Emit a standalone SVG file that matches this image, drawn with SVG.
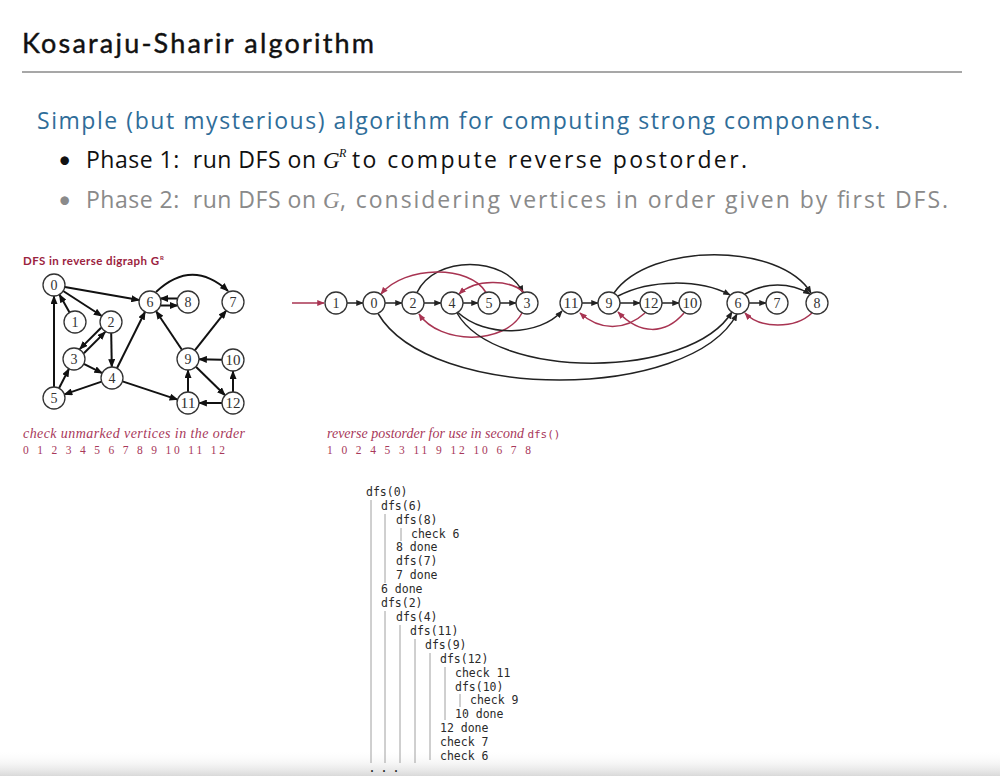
<svg xmlns="http://www.w3.org/2000/svg" width="1000" height="776" viewBox="0 0 1000 776">
  <defs>
    <style>
      .head { font-family: Lato, "Open Sans", sans-serif; }
      .body { font-family: "Open Sans", Lato, sans-serif; }
      .node circle { fill: #fff; stroke: #333; stroke-width: 1.3; }
      .node text { font-family: "Liberation Serif", serif; font-size: 14px; fill: #333; text-anchor: middle; }
      .edgeL { fill: none; stroke: #111; stroke-width: 2; marker-end: url(#ahL); }
      .edgeB { fill: none; stroke: #222; stroke-width: 1.5; marker-end: url(#ahB); }
      .edgeR { fill: none; stroke: #a83452; stroke-width: 1.5; marker-end: url(#ahR); }
      .cap { font-family: "Liberation Serif", serif; font-style: italic; font-size: 14px; fill: #a8385a; }
      .nums { font-family: "Liberation Serif", serif; font-size: 11.5px; fill: #a8385a; }
      .trace { font-family: "DejaVu Sans Mono", "Liberation Mono", monospace; font-size: 11.5px; fill: #2a2a2a; }
      .guide { stroke: #a0a0a0; stroke-width: 1; }
      .ital { font-family: "Liberation Serif", serif; font-style: italic; }
    </style>
    <marker id="ahL" viewBox="0 0 10 8" refX="9" refY="4" markerWidth="9" markerHeight="7" markerUnits="userSpaceOnUse" orient="auto">
      <path d="M0,0 L10,4 L0,8 z" fill="#111"/>
    </marker>
    <marker id="ahB" viewBox="0 0 10 8" refX="9" refY="4" markerWidth="8" markerHeight="6" markerUnits="userSpaceOnUse" orient="auto">
      <path d="M0,0 L10,4 L0,8 z" fill="#222"/>
    </marker>
    <marker id="ahR" viewBox="0 0 10 8" refX="9" refY="4" markerWidth="8" markerHeight="6" markerUnits="userSpaceOnUse" orient="auto">
      <path d="M0,0 L10,4 L0,8 z" fill="#a83452"/>
    </marker>
    <linearGradient id="band" x1="0" y1="0" x2="0" y2="1">
      <stop offset="0" stop-color="#ffffff" stop-opacity="0"/>
      <stop offset="1" stop-color="#d9d9d9"/>
    </linearGradient>
  </defs>

  <rect width="1000" height="776" fill="#fff"/>

  <!-- header -->
  <text class="head" x="22" y="53" font-size="27" fill="#111" stroke="#111" stroke-width="0.4" textLength="352">Kosaraju-Sharir algorithm</text>
  <line x1="22" y1="72" x2="962" y2="72" stroke="#8a8a8a" stroke-width="1.5"/>

  <text class="body" x="37" y="129" font-size="23" fill="#2f6d99" textLength="843">Simple (but mysterious) algorithm for computing strong components.</text>

  <text class="head" x="58" y="168" font-size="23" fill="#111">•</text>
  <text class="body" x="86" y="168" font-size="23" fill="#111" textLength="230" xml:space="preserve">Phase 1:  run DFS on</text>
  <text class="ital" x="323" y="168" font-size="23" fill="#111">G</text>
  <text class="ital" x="339" y="157" font-size="12" fill="#111">R</text>
  <text class="body" x="352" y="168" font-size="23" fill="#111" textLength="395">to compute reverse postorder.</text>

  <text class="head" x="58" y="208" font-size="23" fill="#8a8a8a">•</text>
  <text class="body" x="86" y="208" font-size="23" fill="#8a8a8a" textLength="230" xml:space="preserve">Phase 2:  run DFS on</text>
  <text class="ital" x="323" y="208" font-size="23" fill="#8a8a8a">G</text>
  <text class="body" x="340" y="208" font-size="23" fill="#8a8a8a" textLength="608">, considering vertices in order given by first DFS.</text>

  <!-- reverse digraph -->
  <text x="23" y="265" font-family="Lato, 'Open Sans', sans-serif" font-weight="bold" font-size="11.5" fill="#9b2340" textLength="136">DFS in reverse digraph G</text>
  <text x="160" y="260" font-family="Lato, sans-serif" font-weight="bold" font-size="6" fill="#9b2340">R</text>

  <g id="left-edges">
    <line class="edgeL" x1="64.8" y1="286.9" x2="139.2" y2="300.1"/>
    <line class="edgeL" x1="63.2" y1="291" x2="101.8" y2="316"/>
    <line class="edgeL" x1="69.6" y1="312.4" x2="59.4" y2="294.6"/>
    <line class="edgeL" x1="54" y1="387" x2="54" y2="296"/>
    <line class="edgeL" x1="101.1" y1="327.7" x2="79.7" y2="349.1"/>
    <line class="edgeL" x1="83.9" y1="353.3" x2="105.3" y2="331.9"/>
    <line class="edgeL" x1="111.2" y1="333" x2="111.8" y2="367"/>
    <line class="edgeL" x1="83.8" y1="363.9" x2="102.2" y2="373.1"/>
    <line class="edgeL" x1="101.6" y1="381.6" x2="64.4" y2="394.4"/>
    <line class="edgeL" x1="59" y1="388.2" x2="69" y2="368.8"/>
    <line class="edgeL" x1="116.9" y1="368.2" x2="145.1" y2="311.8"/>
    <line class="edgeL" x1="122.5" y1="381.4" x2="177.5" y2="399.6"/>
    <line class="edgeL" x1="177.6" y1="298.5" x2="160.4" y2="298.5"/>
    <line class="edgeL" x1="160.4" y1="305.5" x2="177.6" y2="305.5"/>
    <path class="edgeL" d="M156,292 Q192,258 228,291"/>
    <line class="edgeL" x1="181.9" y1="349.8" x2="156.1" y2="311.2"/>
    <line class="edgeL" x1="194.8" y1="350.4" x2="226.2" y2="310.6"/>
    <line class="edgeL" x1="222" y1="359.8" x2="199" y2="359.2"/>
    <line class="edgeL" x1="195.9" y1="366.7" x2="225.1" y2="395.3"/>
    <line class="edgeL" x1="188" y1="392" x2="188" y2="370"/>
    <line class="edgeL" x1="222" y1="403" x2="199" y2="403"/>
    <line class="edgeL" x1="233" y1="392" x2="233" y2="371"/>
  </g>

  <g id="L0" class="node"><circle cx="54" cy="285" r="11"/><text x="54" y="290">0</text></g>
  <g id="L1" class="node"><circle cx="75" cy="322" r="11"/><text x="75" y="327">1</text></g>
  <g id="L2" class="node"><circle cx="111" cy="322" r="11"/><text x="111" y="327">2</text></g>
  <g id="L3" class="node"><circle cx="74" cy="359" r="11"/><text x="74" y="364">3</text></g>
  <g id="L4" class="node"><circle cx="112" cy="378" r="11"/><text x="112" y="383">4</text></g>
  <g id="L5" class="node"><circle cx="54" cy="398" r="11"/><text x="54" y="403">5</text></g>
  <g id="L6" class="node"><circle cx="150" cy="302" r="11"/><text x="150" y="307">6</text></g>
  <g id="L8" class="node"><circle cx="188" cy="302" r="11"/><text x="188" y="307">8</text></g>
  <g id="L7" class="node"><circle cx="233" cy="302" r="11"/><text x="233" y="307">7</text></g>
  <g id="L9" class="node"><circle cx="188" cy="359" r="11"/><text x="188" y="364">9</text></g>
  <g id="L10" class="node"><circle cx="233" cy="360" r="11"/><text x="233" y="365" textLength="15" lengthAdjust="spacingAndGlyphs">10</text></g>
  <g id="L11" class="node"><circle cx="188" cy="403" r="11"/><text x="188" y="408" textLength="15" lengthAdjust="spacingAndGlyphs">11</text></g>
  <g id="L12" class="node"><circle cx="233" cy="403" r="11"/><text x="233" y="408" textLength="15" lengthAdjust="spacingAndGlyphs">12</text></g>

  <text class="cap" x="23" y="438" textLength="222">check unmarked vertices in the order</text>
  <text class="nums" x="23" y="454" textLength="202">0 1 2 3 4 5 6 7 8 9 10 11 12</text>

  <!-- reverse postorder chain -->
  <g id="right-edges">
    <line x1="292" y1="303" x2="324" y2="303" stroke="#a83452" stroke-width="1.5" marker-end="url(#ahR)"/>
    <line class="edgeB" x1="347" y1="303" x2="363" y2="303"/>
    <line class="edgeB" x1="385" y1="303" x2="402" y2="303"/>
    <line class="edgeB" x1="424" y1="303" x2="441" y2="303"/>
    <line class="edgeB" x1="463" y1="303" x2="478" y2="303"/>
    <line class="edgeB" x1="500" y1="303" x2="516" y2="303"/>
    <line class="edgeB" x1="582" y1="303" x2="598" y2="303"/>
    <line class="edgeB" x1="620" y1="303" x2="640" y2="303"/>
    <line class="edgeB" x1="662" y1="303" x2="679" y2="303"/>
    <line class="edgeB" x1="749" y1="303" x2="766" y2="303"/>
    <path class="edgeB" d="M417,292.5 C435,255 505,255 523,292.5"/>
    <path class="edgeR" d="M486,292.5 C470,265 405,265 381,294"/>
    <path class="edgeR" d="M524,292.5 C510,279 475,279 459,294"/>
    <path class="edgeR" d="M522,313 C505,345 440,345 419,314"/>
    <path class="edgeB" d="M458,312.5 C485,338 540,336 562,311"/>
    <path class="edgeB" d="M457,313 C495,380 690,380 732,312"/>
    <path class="edgeB" d="M378,313.5 C430,402 690,402 737,314"/>
    <path class="edgeB" d="M614,293 C650,242 780,242 811,293"/>
    <path class="edgeB" d="M618,296 C650,279 700,279 730,295"/>
    <path class="edgeB" d="M745,294 C765,282 790,282 810,294"/>
    <path class="edgeR" d="M812,313 C795,329 760,329 745,313"/>
    <path class="edgeR" d="M645,313 C625,331 600,331 580,313"/>
    <path class="edgeR" d="M684,313 C665,335 640,335 618,312"/>
  </g>

  <g id="R1" class="node"><circle cx="336" cy="303" r="11"/><text x="336" y="308">1</text></g>
  <g id="R0" class="node"><circle cx="374" cy="303" r="11"/><text x="374" y="308">0</text></g>
  <g id="R2" class="node"><circle cx="413" cy="303" r="11"/><text x="413" y="308">2</text></g>
  <g id="R4" class="node"><circle cx="452" cy="303" r="11"/><text x="452" y="308">4</text></g>
  <g id="R5" class="node"><circle cx="489" cy="303" r="11"/><text x="489" y="308">5</text></g>
  <g id="R3" class="node"><circle cx="527" cy="303" r="11"/><text x="527" y="308">3</text></g>
  <g id="R11" class="node"><circle cx="571" cy="303" r="11"/><text x="571" y="308" textLength="15" lengthAdjust="spacingAndGlyphs">11</text></g>
  <g id="R9" class="node"><circle cx="609" cy="303" r="11"/><text x="609" y="308">9</text></g>
  <g id="R12" class="node"><circle cx="651" cy="303" r="11"/><text x="651" y="308" textLength="15" lengthAdjust="spacingAndGlyphs">12</text></g>
  <g id="R10" class="node"><circle cx="690" cy="303" r="11"/><text x="690" y="308" textLength="15" lengthAdjust="spacingAndGlyphs">10</text></g>
  <g id="R6" class="node"><circle cx="738" cy="303" r="11"/><text x="738" y="308">6</text></g>
  <g id="R7" class="node"><circle cx="777" cy="303" r="11"/><text x="777" y="308">7</text></g>
  <g id="R8" class="node"><circle cx="817" cy="303" r="11"/><text x="817" y="308">8</text></g>

  <text class="cap" x="327" y="438">reverse postorder for use in second <tspan font-family="DejaVu Sans Mono, monospace" font-style="normal" font-size="11">dfs()</tspan></text>
  <text class="nums" x="327" y="454" textLength="204">1 0 2 4 5 3 11 9 12 10 6 7 8</text>

  <!-- bottom fade -->
  <rect x="0" y="750" width="1000" height="26" fill="url(#band)"/>

  <!-- call trace -->
  <g id="trace-guides">
    <line class="guide" x1="371" y1="500" x2="371" y2="763"/>
    <line class="guide" x1="385" y1="514" x2="385" y2="583"/>
    <line class="guide" x1="385" y1="611" x2="385" y2="763"/>
    <line class="guide" x1="401" y1="528" x2="401" y2="541"/>
    <line class="guide" x1="400" y1="625" x2="400" y2="763"/>
    <line class="guide" x1="415" y1="639" x2="415" y2="763"/>
    <line class="guide" x1="430" y1="653" x2="430" y2="760"/>
    <line class="guide" x1="445" y1="667" x2="445" y2="720"/>
    <line class="guide" x1="460" y1="694" x2="460" y2="707"/>
  </g>
  <g id="trace-text" class="trace">
    <text x="366" y="496">dfs(0)</text>
    <text x="381" y="510">dfs(6)</text>
    <text x="396" y="524">dfs(8)</text>
    <text x="411" y="538">check 6</text>
    <text x="396" y="551">8 done</text>
    <text x="396" y="565">dfs(7)</text>
    <text x="396" y="579">7 done</text>
    <text x="381" y="593">6 done</text>
    <text x="381" y="607">dfs(2)</text>
    <text x="396" y="621">dfs(4)</text>
    <text x="410" y="635">dfs(11)</text>
    <text x="425" y="649">dfs(9)</text>
    <text x="440" y="663">dfs(12)</text>
    <text x="455" y="677">check 11</text>
    <text x="455" y="691">dfs(10)</text>
    <text x="470" y="704">check 9</text>
    <text x="455" y="718">10 done</text>
    <text x="440" y="732">12 done</text>
    <text x="440" y="746">check 7</text>
    <text x="440" y="760">check 6</text>
    <text x="369" y="772" font-size="10" font-weight="bold">. . .</text>
  </g>
</svg>
